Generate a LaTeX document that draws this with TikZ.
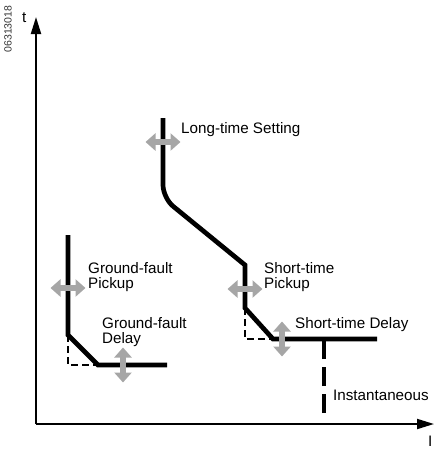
\documentclass[tikz,border=0pt]{standalone}
\usepackage{fontspec}
\setmainfont{Liberation Sans}
\usetikzlibrary{arrows.meta}

\begin{document}
\begin{tikzpicture}[x=1pt, y=-1pt,
  curve/.style={line width=4.7pt},
  guide/.style={line width=1.6pt, dash pattern=on 7pt off 4pt},
  adjarrow/.style={draw=black!35, line width=6pt,
    {Triangle[width=17pt,length=10pt]}-{Triangle[width=17pt,length=10pt]}},
  lbl/.style={font=\fontsize{15.2}{15.5}\selectfont, inner sep=0pt, align=left},
  axis/.style={line width=2pt, -{Triangle[width=10pt,length=17pt]}}]
  \useasboundingbox (0,0) rectangle (435,451);

  % Axes
  \coordinate (O) at (36,424);
  \coordinate (tend) at (36,17);
  \coordinate (iend) at (434,424);
  \draw[axis] (O) -- (tend);
  \draw[axis] (O) -- (iend);
  \node[lbl, anchor=base west] (tlabel) at (22,22) {t};
  \node[lbl, anchor=base west] (ilabel) at (428,446) {I};
  \node[font=\fontsize{10.5}{10.5}\selectfont, inner sep=0pt, rotate=90,
        text=black!80] (code) at (8,29) {06313018};

  % Long-time / short-time curve
  \coordinate (lt0) at (163,118);
  \coordinate (ltbend) at (163,198);
  \coordinate (st0) at (245,265);
  \coordinate (st1) at (245,308);
  \coordinate (st2) at (273,339);
  \coordinate (st3) at (377,339);
  \coordinate (inst) at (324,339);
  \coordinate (instend) at (324,413);
  \draw[curve] (lt0) [rounded corners=13pt] -- (ltbend) [sharp corners] -- (st0)
    -- (st1) -- (st2) -- (st3);
  \draw[guide] (st1) |- (st2);
  \draw[curve, dash pattern=on 19pt off 8pt] (instend) -- (inst);

  % Ground-fault curve
  \coordinate (gf0) at (68,235);
  \coordinate (gf1) at (68,335);
  \coordinate (gf2) at (98,365);
  \coordinate (gf3) at (167,365);
  \draw[curve] (gf0) -- (gf1) -- (gf2) -- (gf3);
  \draw[guide] (gf1) |- (gf2);

  % Adjustment arrows
  \foreach \n/\x/\y in {lt/163/142, gfp/68/288, stp/245/289} {
    \draw[adjarrow] (\x-17.5,\y) coordinate (\n a) -- (\x+17.5,\y) coordinate (\n b);
  }
  \foreach \n/\x/\y in {gfd/123/365, std/282/339} {
    \draw[adjarrow] (\x,\y-17.5) coordinate (\n a) -- (\x,\y+17.5) coordinate (\n b);
  }

  % Labels
  \node[lbl, anchor=base west] (ltset) at (181,133) {Long-time Setting};
  \node[lbl, anchor=north west] (gfpick) at (88,262) {Ground-fault\\Pickup};
  \node[lbl, anchor=north west] (gfdel) at (102,317) {Ground-fault\\Delay};
  \node[lbl, anchor=north west] (stpick) at (264,262) {Short-time\\Pickup};
  \node[lbl, anchor=base west] (stdel) at (295,328) {Short-time Delay};
  \node[lbl, anchor=base west] (instlbl) at (333,400) {Instantaneous};
\end{tikzpicture}
\end{document}
